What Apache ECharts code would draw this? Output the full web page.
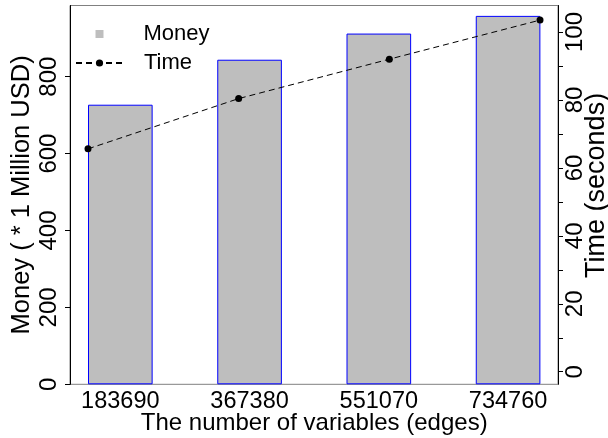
<!DOCTYPE html>
<html>
<head>
<meta charset="utf-8">
<script src="https://cdn.jsdelivr.net/npm/echarts@6/dist/echarts.min.js"></script>
<style>
html,body{margin:0;padding:0;background:#fff;}
#chart{width:608px;height:438px;}
</style>
</head>
<body>
<div id="chart"></div>
<script>
const categories = ['183690', '367380', '551070', '734760'];
const moneyValues = [727, 844, 912, 958];
const timeValues = [65.6, 80.4, 92.0, 103.5];
const moneyTicks = [0, 200, 400, 600, 800];
const timeLabelTicks = [0, 20, 40, 60, 80, 100];
const timeMinorTicks = [0, 10, 20, 30, 40, 50, 60, 70, 80, 90, 100];

const FONT = "'Liberation Sans', Arial, sans-serif";
const TOP = 5.5, BOTTOM = 53.7;
const MONEY_MIN = 0, MONEY_MAX = 985;
const TIME_MIN = -3.7, TIME_MAX = 107.8;

const chart = echarts.init(document.getElementById('chart'), null, {renderer: 'canvas'});
chart.setOption({
  animation: false,
  backgroundColor: '#ffffff',
  textStyle: {fontFamily: FONT},
  grid: [
    {left: 70, right: 50, top: TOP, bottom: BOTTOM, show: true, borderColor: '#808080', borderWidth: 1, backgroundColor: 'transparent', containLabel: false, outerBoundsMode: 'none'},
    {left: 55.7, right: 35.3, top: TOP, bottom: BOTTOM, containLabel: false, outerBoundsMode: 'none'},
    {left: 88, right: 68, top: TOP, bottom: BOTTOM, containLabel: false, outerBoundsMode: 'none'}
  ],
  legend: [
    {
      data: [{name: 'Money', icon: 'rect'}],
      left: 95.5, top: 23, padding: 0,
      itemWidth: 8, itemHeight: 8,
      itemStyle: {borderWidth: 0, color: '#BEBEBE'},
      textStyle: {fontSize: 22, color: '#000', fontFamily: FONT, padding: [0, 0, 0, 35], lineHeight: 22},
      selectedMode: false
    },
    {
      data: ['Time'],
      left: 75, top: 52, padding: 0,
      itemWidth: 47, itemHeight: 9,
      textStyle: {fontSize: 22, color: '#000', fontFamily: FONT, padding: [0, 0, 0, 16], lineHeight: 22},
      selectedMode: false
    }
  ],
  xAxis: [
    {gridIndex: 0, type: 'value', min: 0, max: 1, show: false},
    {
      gridIndex: 1, type: 'category', data: categories, boundaryGap: true,
      axisLine: {show: false}, axisTick: {show: false},
      axisLabel: {fontSize: 23.5, color: '#000', fontFamily: FONT, margin: 5, interval: 0},
      name: 'The number of variables (edges)', nameLocation: 'middle', nameGap: 27, nameMoveOverlap: false,
      nameTextStyle: {fontSize: 24, color: '#000', fontFamily: FONT},
      splitLine: {show: false}
    },
    {gridIndex: 2, type: 'category', data: categories, boundaryGap: false, show: false}
  ],
  yAxis: [
    {
      gridIndex: 0, type: 'value', position: 'left', min: MONEY_MIN, max: MONEY_MAX,
      axisLine: {show: true, lineStyle: {color: '#000', width: 1}},
      axisTick: {show: true, length: 5, lineStyle: {color: '#000'}, customValues: moneyTicks},
      axisLabel: {fontSize: 24, color: '#000', fontFamily: FONT, rotate: 90, margin: 9, customValues: moneyTicks},
      splitLine: {show: false},
      name: 'Money ( * 1 Million USD)', nameLocation: 'middle', nameGap: 35, nameRotate: 90, nameMoveOverlap: false,
      nameTextStyle: {fontSize: 25.5, color: '#000', fontFamily: FONT}
    },
    {
      gridIndex: 0, type: 'value', position: 'right', min: TIME_MIN, max: TIME_MAX,
      axisLine: {show: true, lineStyle: {color: '#000', width: 1}},
      axisTick: {show: true, length: 5, lineStyle: {color: '#000'}, customValues: timeMinorTicks},
      axisLabel: {fontSize: 24, color: '#000', fontFamily: FONT, rotate: 90, margin: 5, customValues: timeLabelTicks},
      splitLine: {show: false},
      name: 'Time (seconds)', nameLocation: 'middle', nameGap: 25, nameRotate: 90, nameMoveOverlap: false,
      nameTextStyle: {fontSize: 27, color: '#000', fontFamily: FONT, padding: [0, 0, 0, 19]}
    },
    {gridIndex: 1, type: 'value', min: MONEY_MIN, max: MONEY_MAX, show: false, splitLine: {show: false}},
    {gridIndex: 2, type: 'value', min: TIME_MIN, max: TIME_MAX, show: false, splitLine: {show: false}}
  ],
  series: [
    {
      name: 'Money', type: 'bar', xAxisIndex: 1, yAxisIndex: 2, data: moneyValues,
      barWidth: '50%',
      itemStyle: {color: '#BEBEBE', borderColor: '#0000FF', borderWidth: 1}
    },
    {
      name: 'Time', type: 'line', xAxisIndex: 2, yAxisIndex: 3, data: timeValues,
      symbol: 'circle', symbolSize: 7,
      lineStyle: {color: '#000', width: 1, type: [6, 4]},
      itemStyle: {color: '#000'},
      z: 5
    }
  ]
});
</script>
</body>
</html>
